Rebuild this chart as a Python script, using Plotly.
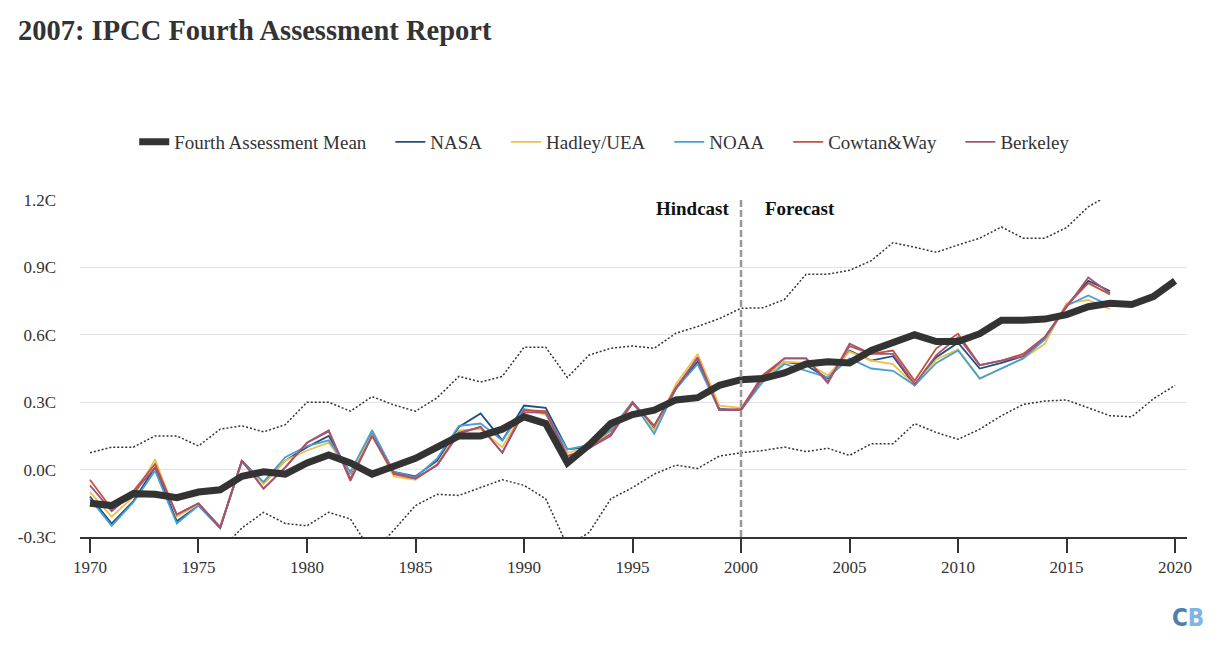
import plotly.graph_objects as go

years_mean = list(range(1970, 2021))
mean = [-0.15, -0.16, -0.107, -0.11, -0.125, -0.10, -0.09, -0.03, -0.01, -0.02,
        0.03, 0.065, 0.03, -0.02, 0.015, 0.05, 0.10, 0.15, 0.15, 0.18,
        0.235, 0.205, 0.03, 0.11, 0.205, 0.245, 0.265, 0.31, 0.32, 0.375,
        0.40, 0.405, 0.43, 0.47, 0.48, 0.475, 0.53, 0.565, 0.60, 0.57,
        0.57, 0.605, 0.665, 0.665, 0.67, 0.69, 0.725, 0.74, 0.735, 0.77, 0.84]
upper = [0.075, 0.10, 0.10, 0.15, 0.15, 0.105, 0.18, 0.195, 0.168, 0.20,
         0.30, 0.30, 0.26, 0.325, 0.288, 0.26, 0.32, 0.415, 0.39, 0.415,
         0.545, 0.545, 0.41, 0.51, 0.54, 0.55, 0.54, 0.607, 0.637, 0.672,
         0.718, 0.72, 0.757, 0.87, 0.87, 0.887, 0.93, 1.01, 0.99, 0.967,
         1.0, 1.03, 1.08, 1.03, 1.03, 1.077, 1.17, 1.225, 1.23, 1.26, 1.30]
lower = [-0.38, -0.41, -0.32, -0.37, -0.40, -0.32, -0.36, -0.26, -0.19, -0.24,
         -0.25, -0.19, -0.22, -0.37, -0.27, -0.16, -0.11, -0.115, -0.08, -0.045,
         -0.07, -0.13, -0.34, -0.28, -0.13, -0.08, -0.02, 0.02, 0.005, 0.06,
         0.075, 0.085, 0.10, 0.08, 0.095, 0.063, 0.115, 0.115, 0.205, 0.165,
         0.135, 0.18, 0.24, 0.29, 0.305, 0.31, 0.275, 0.24, 0.235, 0.315, 0.375]

years_obs = list(range(1970, 2018))
nasa = [-0.12, -0.24, -0.14, 0.01, -0.23, -0.16, -0.26, 0.04, -0.06, 0.04,
        0.10, 0.15, -0.02, 0.16, -0.01, -0.03, 0.04, 0.19, 0.25, 0.13,
        0.285, 0.275, 0.09, 0.10, 0.175, 0.30, 0.18, 0.36, 0.48, 0.27,
        0.265, 0.405, 0.48, 0.465, 0.405, 0.53, 0.485, 0.505, 0.375, 0.50,
        0.565, 0.45, 0.475, 0.505, 0.585, 0.73, 0.84, 0.795]
hadley = [-0.10, -0.21, -0.12, 0.045, -0.21, -0.155, -0.255, 0.035, -0.065, 0.04,
          0.085, 0.12, -0.015, 0.155, -0.03, -0.045, 0.025, 0.175, 0.18, 0.10,
          0.265, 0.245, 0.075, 0.10, 0.175, 0.30, 0.175, 0.38, 0.515, 0.285,
          0.275, 0.405, 0.48, 0.475, 0.42, 0.525, 0.485, 0.47, 0.375, 0.49,
          0.535, 0.405, 0.45, 0.495, 0.56, 0.74, 0.755, 0.715]
noaa = [-0.13, -0.25, -0.145, -0.005, -0.24, -0.16, -0.26, 0.035, -0.055, 0.055,
        0.105, 0.13, -0.01, 0.175, -0.01, -0.035, 0.05, 0.195, 0.205, 0.13,
        0.27, 0.25, 0.09, 0.11, 0.175, 0.30, 0.16, 0.36, 0.47, 0.265,
        0.265, 0.39, 0.47, 0.44, 0.41, 0.495, 0.45, 0.44, 0.375, 0.475,
        0.53, 0.405, 0.45, 0.495, 0.58, 0.73, 0.775, 0.73]
cowtan = [-0.045, -0.175, -0.095, 0.025, -0.20, -0.15, -0.255, 0.04, -0.085, 0.01,
          0.12, 0.17, -0.04, 0.15, -0.02, -0.04, 0.02, 0.16, 0.19, 0.075,
          0.265, 0.26, 0.06, 0.095, 0.16, 0.30, 0.195, 0.365, 0.495, 0.265,
          0.27, 0.42, 0.495, 0.495, 0.39, 0.55, 0.515, 0.53, 0.395, 0.54,
          0.605, 0.465, 0.485, 0.515, 0.59, 0.73, 0.83, 0.78]
berkeley = [-0.07, -0.185, -0.105, 0.01, -0.20, -0.15, -0.26, 0.04, -0.085, 0.01,
            0.12, 0.175, -0.05, 0.15, -0.015, -0.04, 0.02, 0.165, 0.19, 0.075,
            0.255, 0.255, 0.06, 0.095, 0.15, 0.295, 0.195, 0.36, 0.50, 0.265,
            0.265, 0.41, 0.495, 0.495, 0.385, 0.56, 0.515, 0.515, 0.38, 0.51,
            0.59, 0.465, 0.485, 0.505, 0.59, 0.725, 0.855, 0.785]

mean_name = "Fourth Assessment Mean"
obs_names = ["NASA", "Hadley/UEA", "NOAA", "Cowtan&Way", "Berkeley"]
obs_values = [nasa, hadley, noaa, cowtan, berkeley]
obs_colors = ["#1f4f7f", "#f0c04a", "#4a9fd3", "#c4513d", "#a0547a"]

y_tickvals = [-0.3, 0.0, 0.3, 0.6, 0.9, 1.2]
y_ticktext = ["-0.3C", "0.0C", "0.3C", "0.6C", "0.9C", "1.2C"]
x_tickvals = list(range(1970, 2021, 5))

FONT = "Liberation Serif"
TXT = "#333333"
PAD = "\u00a0" * 4

fig = go.Figure()

for bound in (upper, lower):
    fig.add_trace(go.Scatter(x=years_mean, y=bound, mode="lines", showlegend=False,
                             hoverinfo="skip",
                             line=dict(color="#333333", width=1.5, dash="2px,2px")))

for i, (name, vals, col) in enumerate(zip(obs_names, obs_values, obs_colors)):
    label = name + (PAD if i < len(obs_names) - 1 else "")
    fig.add_trace(go.Scatter(x=years_obs, y=vals, mode="lines", name=label,
                             legendrank=2 + i,
                             line=dict(color=col, width=1.8)))

fig.add_trace(go.Scatter(x=years_mean, y=mean, mode="lines", name=mean_name + PAD,
                         legendrank=1,
                         line=dict(color="#333333", width=7)))

fig.add_shape(type="line", x0=2000, x1=2000, y0=-0.3, y1=1.2, xref="x", yref="y",
              line=dict(color="#999999", width=2.5, dash="7px,3px"))

fig.add_annotation(x=2000, y=1.2, xref="x", yref="y", text="<b>Hindcast</b>",
                   showarrow=False, xanchor="right", yanchor="middle", xshift=-9, yshift=-8,
                   font=dict(family=FONT, size=19, color="#111111"))
fig.add_annotation(x=2000, y=1.2, xref="x", yref="y", text="<b>Forecast</b>",
                   showarrow=False, xanchor="left", yanchor="middle", xshift=22, yshift=-8,
                   font=dict(family=FONT, size=19, color="#111111"))

fig.add_annotation(x=(1206 - 80) / 1107, y=1 - (602 - 200) / 337, xref="paper", yref="paper",
                   text="<b><span style='color:#4f80ab'>C</span><span style='color:#7db6e4'>B</span></b>",
                   showarrow=False, xanchor="right", yanchor="top",
                   font=dict(family="DejaVu Sans Condensed, DejaVu Sans", size=24))

fig.update_layout(
    width=1220, height=664,
    paper_bgcolor="white", plot_bgcolor="white",
    margin=dict(l=80, r=33, t=200, b=127),
    font=dict(family=FONT, color=TXT, size=17),
    title=dict(text="<b>2007: IPCC Fourth Assessment Report</b>", x=18 / 1220, xanchor="left",
               y=1 - 30 / 664, yanchor="middle",
               font=dict(family=FONT, size=28.5, color=TXT)),
    legend=dict(orientation="h", x=0.474, xanchor="center", y=1 + (200 - 142) / 337,
                yanchor="middle", font=dict(family=FONT, size=19, color=TXT),
                itemwidth=30, traceorder="normal"),
    showlegend=True,
)

fig.update_xaxes(range=[1969.54, 2020.55], tickvals=x_tickvals, ticks="outside",
                 ticklen=14, tickwidth=2, tickcolor="#333333", showline=True,
                 linecolor="#333333", linewidth=2, showgrid=False, zeroline=False,
                 tickfont=dict(family=FONT, size=17, color=TXT))
fig.update_yaxes(range=[-0.3, 1.2], tickvals=y_tickvals, ticktext=y_ticktext,
                 showgrid=True, gridcolor="#e3e3e3", gridwidth=1, zeroline=False,
                 showline=False, ticks="", ticklabelstandoff=23,
                 tickfont=dict(family=FONT, size=17, color=TXT))

fig.write_html("out.html", config={"displayModeBar": False},
               post_script="document.body.style.margin='0';document.body.style.padding='0';")
